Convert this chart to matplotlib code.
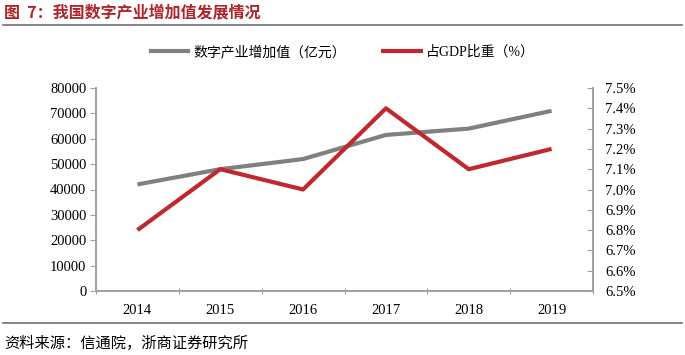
import matplotlib.pyplot as plt
from matplotlib.lines import Line2D
from matplotlib.ticker import FuncFormatter
import numpy as np

plt.rcParams['font.family'] = ['Liberation Serif', 'Noto Sans CJK SC']

# 数据
years = ['2014', '2015', '2016', '2017', '2018', '2019']
value_added = [42000, 48000, 52000, 61500, 64000, 71000]   # 亿元
gdp_share = [6.8, 7.1, 7.0, 7.4, 7.1, 7.2]                 # %

GRAY = '#808080'
RED = '#C0282D'
SPINE = '#A0A0A0'

fig = plt.figure(figsize=(6.85, 3.55), dpi=100)
ax1 = fig.add_axes([96 / 685, 1 - 291 / 355, (593 - 96) / 685, (291 - 88) / 355])
ax2 = ax1.twinx()

x = np.arange(len(years))
ax1.plot(x, value_added, color=GRAY, linewidth=3, solid_capstyle='butt', zorder=3)
ax2.plot(x, gdp_share, color=RED, linewidth=3, solid_capstyle='butt', zorder=4)

# 左轴
ax1.set_xlim(-0.5, len(years) - 0.5)
ax1.set_ylim(0, 80000)
ax1.set_yticks(np.arange(0, 80001, 10000))
ax1.tick_params(axis='y', direction='out', length=4, color=SPINE, labelsize=10.5, pad=3)
ax1.set_xticks(np.arange(-0.5, len(years), 1.0))
ax1.set_xticklabels([])
ax1.set_xticks(x, minor=True)
ax1.set_xticklabels(years, minor=True)
ax1.tick_params(axis='x', which='major', direction='inout', length=4, color=SPINE)
ax1.tick_params(axis='x', which='minor', length=0, labelsize=10.5, pad=9)

# 右轴
ax2.set_ylim(6.5, 7.5)
ax2.set_yticks(np.arange(6.5, 7.51, 0.1))
ax2.yaxis.set_major_formatter(FuncFormatter(lambda v, p: f'{v:.1f}%'))
ax2.tick_params(axis='y', direction='in', length=4, color=SPINE, labelsize=10.5, pad=9)

for a in (ax1, ax2):
    a.spines['top'].set_visible(False)
    for s in ('left', 'right', 'bottom'):
        a.spines[s].set_color(SPINE)
        a.spines[s].set_linewidth(1.2)

# 图例
handles = [Line2D([], [], color=GRAY, linewidth=3),
           Line2D([], [], color=RED, linewidth=3)]
fig.legend(handles, ['数字产业增加值（亿元）', '占GDP比重（%）'],
           loc='center', bbox_to_anchor=(0.5, 1 - 52 / 355), ncol=2,
           frameon=False, fontsize=10, handlelength=2.7, handletextpad=0.35,
           columnspacing=2.7)

# 标题与来源
fig.text(4 / 685, 1 - 12 / 355, '图  7：我国数字产业增加值发展情况', color='#B0232A',
         fontsize=11.5, fontweight='bold', family=['Noto Sans CJK SC'], va='center')
fig.add_artist(Line2D([3 / 685, 682 / 685], [1 - 25 / 355] * 2, color='#707070', linewidth=1.2))
fig.add_artist(Line2D([3 / 685, 682 / 685], [1 - 323 / 355] * 2, color='#707070', linewidth=1.2))
fig.text(4 / 685, 1 - 343 / 355, '资料来源：信通院，浙商证券研究所', fontsize=11,
         family=['Noto Sans CJK SC'], va='center')

fig.savefig('out.png', dpi=100)
